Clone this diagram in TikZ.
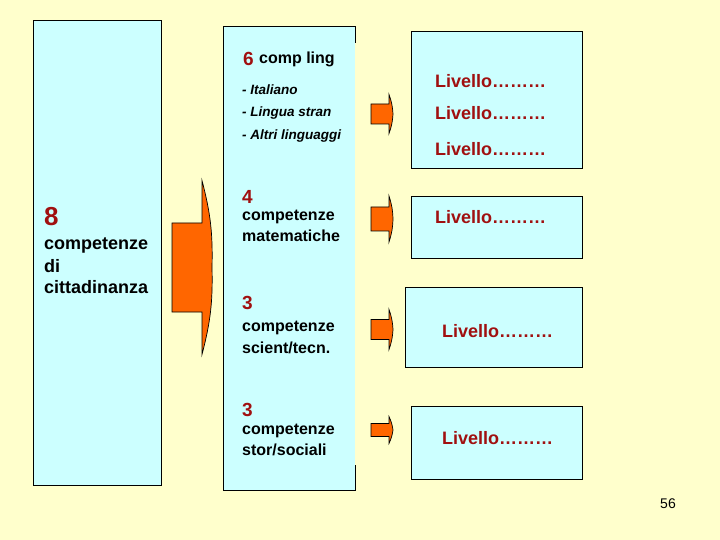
\documentclass[tikz,border=0pt]{standalone}
\usepackage{fontspec}
\setmainfont{Liberation Sans}
\usetikzlibrary{positioning}
\definecolor{slidebg}{RGB}{255,255,204}
\definecolor{boxcyan}{RGB}{204,255,255}
\definecolor{numred}{RGB}{160,16,16}
\definecolor{arrorange}{RGB}{255,102,0}

% block arrow: x0, x1, centre y, half body, half head, tip depth
\newcommand{\orangearrow}[6]{%
  \draw[arrshape] ({#1},{#3-#4}) -- ({#2},{#3-#4}) -- ({#2},{#3-#5})
    to[bend left=8] ({#2+#6},{#3}) to[bend left=8] ({#2},{#3+#5})
    -- ({#2},{#3+#4}) -- ({#1},{#3+#4}) -- cycle;}

\begin{document}
\begin{tikzpicture}[x=1pt, y=-1pt,
    panel/.style={draw, line width=0.8pt, fill=boxcyan, inner sep=0pt,
                  anchor=north west},
    arrshape/.style={draw, line width=0.7pt, fill=arrorange},
    num/.style={text=numred, anchor=west, inner sep=0pt,
                font=\bfseries\fontsize{19}{19}\selectfont},
    bignum/.style={text=numred, anchor=west, inner sep=0pt,
                font=\bfseries\fontsize{26}{26}\selectfont},
    txt/.style={anchor=west, inner sep=0pt,
                font=\bfseries\fontsize{16}{16}\selectfont},
    bigtxt/.style={anchor=west, inner sep=0pt,
                font=\bfseries\fontsize{18}{18}\selectfont},
    item/.style={anchor=west, inner sep=0pt,
                font=\bfseries\itshape\fontsize{13.5}{13.5}\selectfont},
    level/.style={text=numred, anchor=west, inner sep=0pt,
                font=\bfseries\fontsize{18}{18}\selectfont},
  ]
  \fill[slidebg] (0,0) rectangle (720,540);
  \useasboundingbox (0,0) rectangle (720,540);

  % Colonna sinistra
  \node[panel, minimum width=128pt, minimum height=465pt] (left) at (33,20) {};
  \node[bignum] (n8) at (44,217) {8};
  \node[bigtxt] (l1) at (44,245) {competenze};
  \node[bigtxt] (l2) at (44,266) {di};
  \node[bigtxt] (l3) at (44,287) {cittadinanza};

  % Colonna centrale (bordo destro solo in alto e in basso)
  \fill[boxcyan] (223,26) rectangle (355,490);
  \draw[line width=0.8pt] (355,43) -- (355,26) -- (223,26) -- (223,490)
    -- (355,490) -- (355,465);
  \coordinate (mid) at (223,26);

  \node[num] (n6) at (243,59) {6};
  \node[txt, right=5pt of n6] (ling) {comp ling};
  \node[item] (it1) at (242,90) {- Italiano};
  \node[item] (it2) at (242,113) {- Lingua stran};
  \node[item] (it3) at (242,136) {- Altri linguaggi};

  \node[num] (n4) at (242,197) {4};
  \node[txt] (m1) at (242,217) {competenze};
  \node[txt] (m2) at (242,236) {matematiche};

  \node[num] (n3a) at (242,303) {3};
  \node[txt] (s1) at (242,328) {competenze};
  \node[txt] (s2) at (242,348) {scient/tecn.};

  \node[num] (n3b) at (242,410) {3};
  \node[txt] (h1) at (242,431) {competenze};
  \node[txt] (h2) at (242,450) {stor/sociali};

  % Riquadri livello
  \node[panel, minimum width=171pt, minimum height=137pt] (lv1) at (411,31) {};
  \node[panel, minimum width=171pt, minimum height=62pt] (lv2) at (411,196) {};
  \node[panel, minimum width=177pt, minimum height=80pt] (lv3) at (405,287) {};
  \node[panel, minimum width=171pt, minimum height=73pt] (lv4) at (411,406) {};

  \node[level] (t1) at (435,81) {Livello………};
  \node[level] (t2) at (435,113) {Livello………};
  \node[level] (t3) at (435,149) {Livello………};
  \node[level] (t4) at (435,217) {Livello………};
  \node[level] (t5) at (442,331) {Livello………};
  \node[level] (t6) at (442,438) {Livello………};

  % Frecce
  \orangearrow{172}{202}{267.5}{44.5}{87}{10}
  \orangearrow{371}{389}{114}{10}{19.5}{4}
  \orangearrow{371}{389}{219}{12}{23}{4}
  \orangearrow{371}{389}{329.5}{10}{20}{4}
  \orangearrow{371}{389}{430}{6.5}{13.5}{4}

  % Numero pagina
  \node[font=\fontsize{14}{14}\selectfont, inner sep=0pt] (page) at (668,504) {56};
\end{tikzpicture}
\end{document}
